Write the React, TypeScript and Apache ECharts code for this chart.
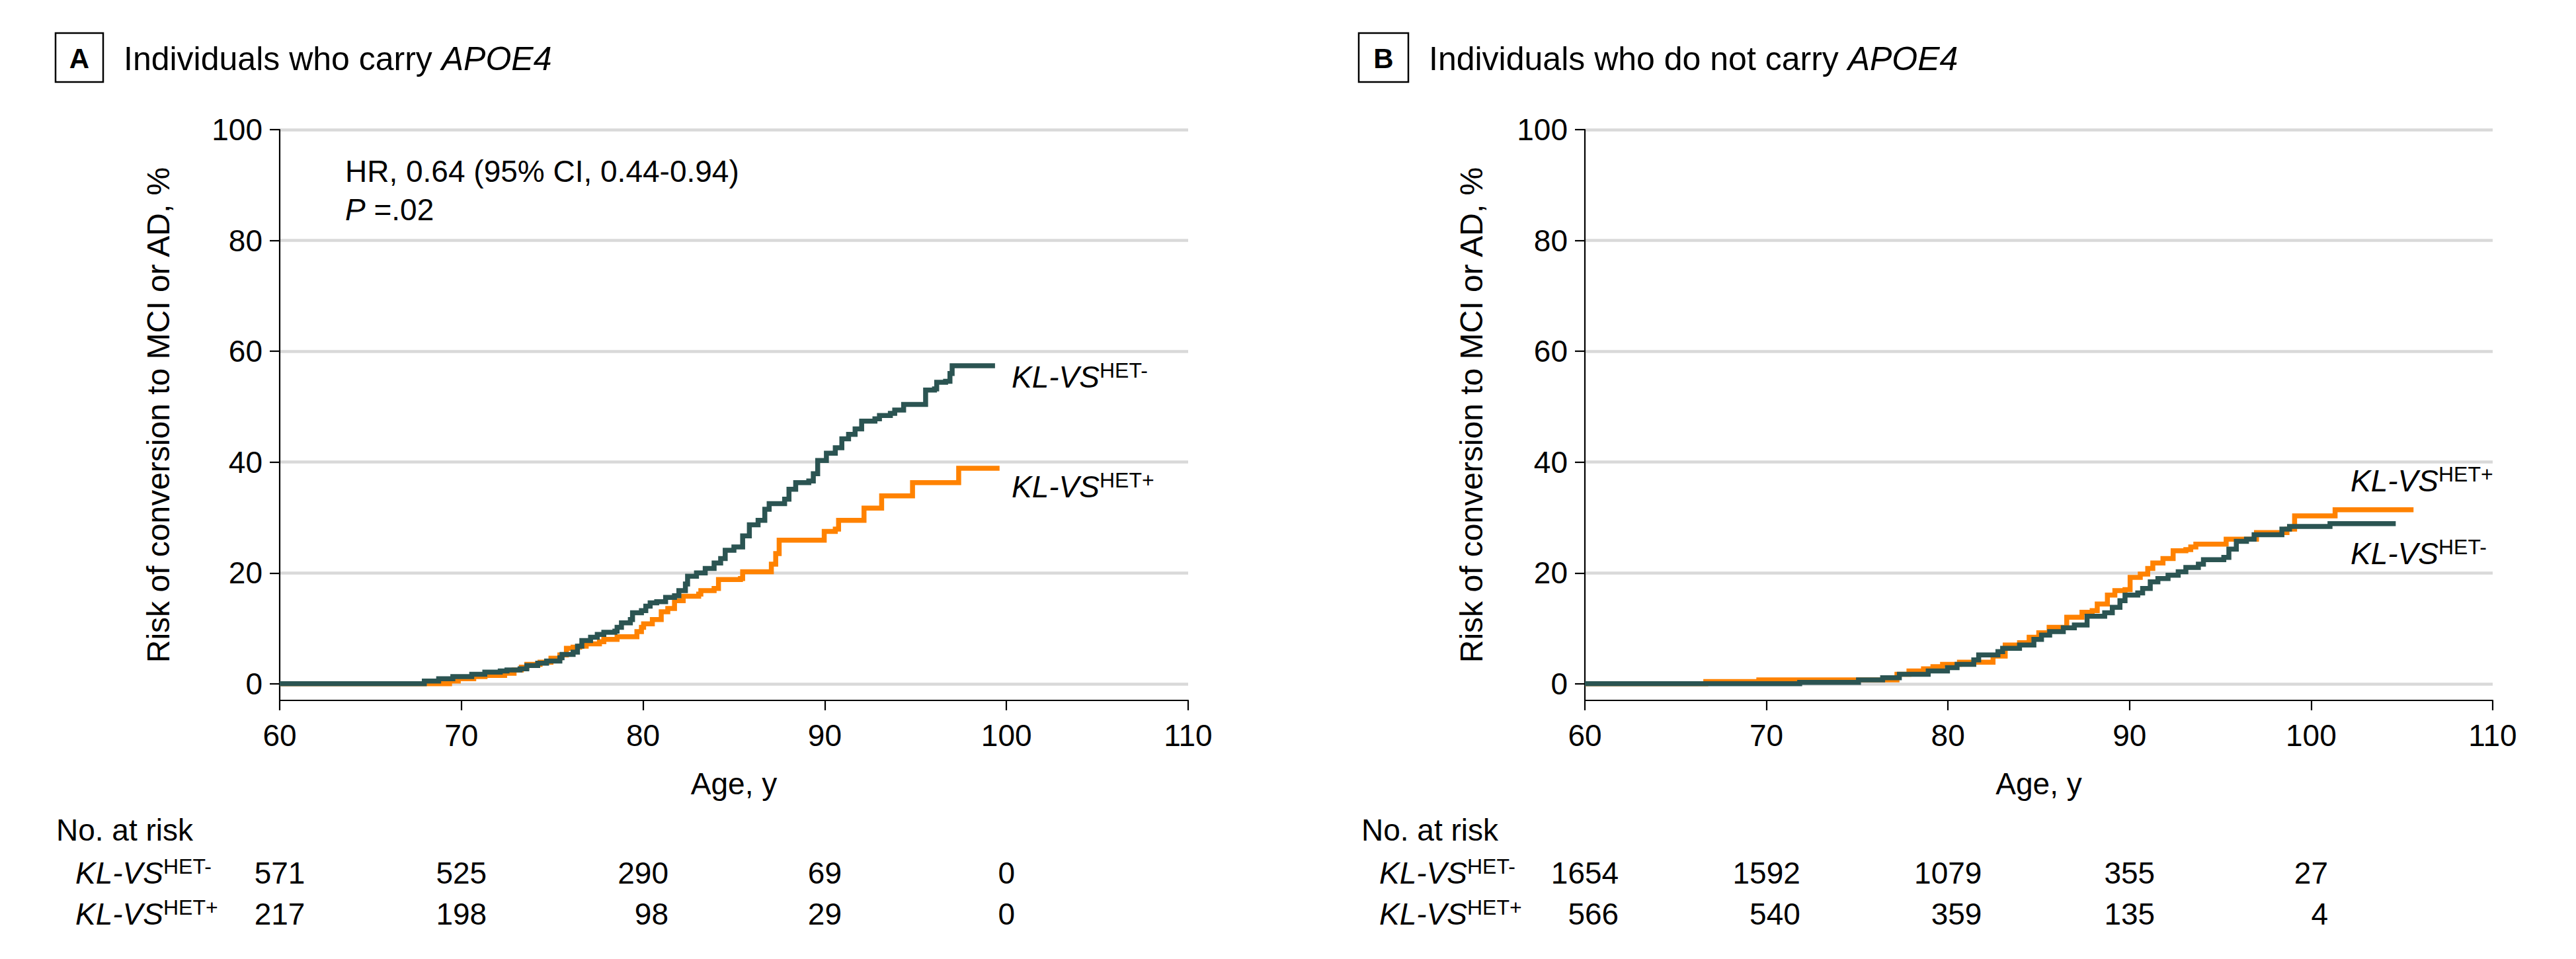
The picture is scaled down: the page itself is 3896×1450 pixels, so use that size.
import React, { useEffect, useRef } from 'react';
import * as echarts from 'echarts';

// ---------- data ----------
const xTicks = [60, 70, 80, 90, 100, 110];
const yTicks = [0, 20, 40, 60, 80, 100];

// Panel A: individuals who carry APOE4  [age, cumulative risk %]
const carrierHetNeg: [number, number][] = [
  [60, 0], [67.96, 0.5], [68.75, 0.9], [69.53, 1.3], [70.57, 1.7], [71.29, 2.1], [72.14, 2.3], [72.51, 2.5],
  [73.23, 2.7], [73.6, 3.3], [74.2, 3.7], [74.69, 4.1], [75.42, 4.7], [75.54, 5.3], [76.15, 5.7], [76.39, 6.8],
  [76.63, 7.8], [77.11, 8.4], [77.48, 8.9], [77.84, 9.3], [78.45, 9.5], [78.57, 10.2], [78.81, 11.0], [79.3, 11.6],
  [79.42, 12.8], [79.91, 13.2], [80.15, 14.0], [80.39, 14.6], [80.75, 14.8], [81.24, 15.6], [81.73, 15.9],
  [81.97, 16.8], [82.33, 18.0], [82.45, 19.4], [82.94, 20.0], [83.42, 20.8], [83.91, 21.8], [84.27, 22.6],
  [84.52, 24.1], [85.0, 24.7], [85.48, 26.7], [85.85, 28.7], [86.33, 29.5], [86.7, 31.5], [86.94, 32.5],
  [87.79, 33.3], [88.03, 35.1], [88.4, 36.3], [89.12, 36.6], [89.37, 37.9], [89.61, 40.3], [90.09, 41.6],
  [90.58, 42.6], [90.94, 44.2], [91.31, 45.0], [91.67, 46.0], [92.03, 47.4], [92.76, 47.8], [93.01, 48.4],
  [93.61, 48.8], [93.85, 49.4], [94.34, 50.4], [95.55, 53.0], [96.04, 53.2], [96.16, 54.4], [96.65, 54.6],
  [96.89, 56.0], [97.01, 57.4], [99.37, 57.4],
];
const carrierHetPos: [number, number][] = [
  [60, 0], [69.35, 0.5], [69.83, 0.9], [70.68, 1.3], [71.3, 1.5], [72.38, 1.9], [72.9, 2.5], [73.3, 3.0],
  [73.6, 3.5], [74.33, 3.9], [74.93, 4.6], [75.42, 5.2], [75.78, 6.4], [76.15, 6.6], [76.51, 6.8], [76.87, 7.2],
  [77.6, 7.6], [77.84, 8.0], [78.57, 8.5], [79.66, 9.4], [79.91, 10.2], [80.03, 10.8], [80.51, 11.6],
  [81.0, 13.0], [81.36, 13.6], [81.73, 15.0], [82.21, 15.8], [83.06, 16.2], [83.18, 16.8], [83.91, 17.2],
  [84.15, 18.8], [85.36, 19.0], [85.48, 20.2], [87.06, 21.6], [87.3, 23.5], [87.49, 25.9], [89.97, 27.5],
  [90.58, 27.9], [90.76, 29.5], [92.16, 31.7], [93.13, 33.9], [94.83, 36.3], [97.37, 38.9], [99.62, 38.9],
];

// Panel B: individuals who do not carry APOE4
const nonCarrierHetNeg: [number, number][] = [
  [60, 0], [71.83, 0.25], [75.07, 0.7], [76.4, 1.1], [77.32, 1.7], [78.91, 2.3], [79.97, 2.9], [80.5, 3.5],
  [81.42, 4.3], [81.69, 5.2], [82.75, 5.8], [83.01, 6.4], [83.94, 7.0], [84.73, 8.0], [85.15, 8.8], [85.6, 9.4],
  [86.35, 10.1], [86.96, 10.6], [87.66, 12.2], [88.63, 12.8], [89.05, 13.8], [89.47, 15.0], [89.75, 16.0],
  [90.45, 16.4], [90.72, 17.2], [91.14, 18.4], [91.56, 19.0], [92.12, 19.6], [92.68, 20.2], [93.1, 21.0],
  [93.79, 21.6], [94.07, 22.4], [95.19, 22.8], [95.47, 24.3], [95.88, 25.7], [96.44, 26.1], [96.86, 26.9],
  [98.39, 27.9], [98.81, 28.4], [101.04, 28.9], [104.66, 28.9],
];
const nonCarrierHetPos: [number, number][] = [
  [60, 0], [66.66, 0.4], [69.58, 0.7], [77.19, 1.7], [77.85, 2.3], [78.65, 2.7], [79.17, 3.1], [79.7, 3.5],
  [80.63, 3.9], [82.48, 5.0], [83.15, 7.0], [83.94, 7.4], [84.47, 8.4], [85.0, 9.2], [85.57, 10.2],
  [86.54, 12.0], [87.38, 12.9], [87.94, 13.2], [88.22, 14.4], [88.78, 16.0], [89.19, 16.8], [89.75, 17.0],
  [90.03, 19.2], [90.59, 19.8], [91.0, 20.8], [91.28, 21.8], [91.84, 22.6], [92.4, 24.0], [93.1, 24.2],
  [93.37, 24.7], [93.65, 25.2], [95.32, 26.1], [96.99, 27.3], [98.67, 27.9], [99.09, 30.3], [101.32, 31.4],
  [105.64, 31.4],
];

// Number at risk
const riskAges = [60, 70, 80, 90, 100];
const riskCarrierNeg = ['571', '525', '290', '69', '0'];
const riskCarrierPos = ['217', '198', '98', '29', '0'];
const riskNonCarrierNeg = ['1654', '1592', '1079', '355', '27'];
const riskNonCarrierPos = ['566', '540', '359', '135', '4'];

// ---------- styles ----------
const FONT = "'Liberation Sans', Arial, Helvetica, sans-serif";
const TEAL = '#2b5452';
const ORANGE = '#ff8200';
const GRID_COLOR = '#d9d9d9';
const FS = 46;

const axisLineStyle = { color: '#000', width: 2.2 };

function xAxisFor(gridIndex: number) {
  return {
    gridIndex,
    type: 'value',
    min: xTicks[0],
    max: xTicks[xTicks.length - 1],
    interval: 10,
    position: 'bottom',
    axisLine: { show: true, onZero: false, lineStyle: axisLineStyle },
    axisTick: { show: true, inside: false, length: 15, lineStyle: axisLineStyle },
    axisLabel: { color: '#000', fontSize: FS, fontFamily: FONT, margin: 30 },
    splitLine: { show: false },
    name: 'Age, y',
    nameLocation: 'middle',
    nameGap: 103,
    nameTextStyle: { color: '#000', fontSize: FS, fontFamily: FONT },
  };
}

function yAxisFor(gridIndex: number, nameGap: number) {
  return {
    gridIndex,
    type: 'value',
    min: -3,
    max: 100,
    axisLine: { show: true, onZero: false, lineStyle: axisLineStyle },
    axisTick: { show: true, inside: false, length: 15, customValues: yTicks, lineStyle: axisLineStyle },
    axisLabel: { customValues: yTicks, color: '#000', fontSize: FS, fontFamily: FONT, margin: 26 },
    splitLine: { show: true, lineStyle: { color: GRID_COLOR, width: 4.5 } },
    name: 'Risk of conversion to MCI or AD, %',
    nameLocation: 'middle',
    nameGap,
    nameTextStyle: { color: '#000', fontSize: 48, fontFamily: FONT },
  };
}

const digitW = 25.6;
const riskRich: Record<string, any> = {};
for (let n = 1; n <= 4; n++) {
  riskRich['d' + n] = {
    width: n * digitW,
    align: 'right',
    fontSize: FS,
    fontFamily: FONT,
    color: '#000',
    lineHeight: 62,
  };
}

function riskAxisFor(gridIndex: number, rows: string[][]) {
  return {
    gridIndex,
    type: 'value',
    min: 60,
    max: 110,
    interval: 10,
    position: 'bottom',
    axisLine: { show: false },
    axisTick: { show: false },
    splitLine: { show: false },
    axisLabel: {
      margin: 230,
      formatter: (v: number) => {
        const idx = riskAges.indexOf(Math.round(v));
        if (idx < 0) return '';
        const w = Math.max(...rows.map((r) => r[idx].length));
        return rows.map((r) => `{d${w}|${r[idx]}}`).join('\n');
      },
      rich: riskRich,
    },
  };
}

function kmSeries(data: [number, number][], axisIndex: number, color: string, z: number) {
  return {
    type: 'line',
    xAxisIndex: axisIndex,
    yAxisIndex: axisIndex,
    data,
    step: 'end',
    symbol: 'none',
    showSymbol: false,
    silent: true,
    z,
    lineStyle: { color, width: 7.5, cap: 'butt', join: 'miter' },
  };
}

function plainText(x: number, y: number, text: string, fontSize = FS, extra: any = {}) {
  return {
    type: 'text',
    x,
    y,
    silent: true,
    style: {
      text,
      fill: '#000',
      fontSize,
      fontFamily: FONT,
      align: 'left',
      verticalAlign: 'middle',
      textAlign: 'left',
      textVerticalAlign: 'middle',
      ...extra,
    },
  };
}

const supRich = {
  m: { fontStyle: 'italic', fontSize: FS, fontFamily: FONT, color: '#000', lineHeight: 52, verticalAlign: 'middle' },
  s: { fontSize: 32, fontFamily: FONT, color: '#000', verticalAlign: 'top' },
};

function klvs(x: number, y: number, sup: string) {
  return plainText(x, y, `{m|KL-VS}{s|${sup}}`, FS, { rich: supRich });
}

function titleBox(x: number, w: number, letter: string, textX: number, text: string) {
  return [
    {
      type: 'rect',
      silent: true,
      shape: { x, y: 50, width: w, height: 74 },
      style: { fill: 'none', stroke: '#000', lineWidth: 2.5 },
    },
    {
      type: 'text',
      x: x + w / 2,
      y: 88,
      silent: true,
      style: {
        text: letter,
        fill: '#000',
        fontSize: 42,
        fontWeight: 'bold',
        fontFamily: FONT,
        align: 'center',
        verticalAlign: 'middle',
        textAlign: 'center',
        textVerticalAlign: 'middle',
      },
    },
    plainText(textX, 89, `{n|${text}}{i|APOE4}`, 50, {
      rich: {
        n: { fontSize: 50, fontFamily: FONT, color: '#000' },
        i: { fontSize: 50, fontFamily: FONT, color: '#000', fontStyle: 'italic' },
      },
    }),
  ];
}

function buildOption() {
  return {
    animation: false,
    backgroundColor: '#fff',
    textStyle: { fontFamily: FONT },
    grid: [
      { left: 423, top: 196, width: 1374, height: 863, containLabel: false, outerBoundsMode: 'none' },
      { left: 2397, top: 196, width: 1373, height: 863, containLabel: false, outerBoundsMode: 'none' },
    ],
    xAxis: [
      xAxisFor(0),
      xAxisFor(1),
      riskAxisFor(0, [riskCarrierNeg, riskCarrierPos]),
      riskAxisFor(1, [riskNonCarrierNeg, riskNonCarrierPos]),
    ],
    yAxis: [yAxisFor(0, 160), yAxisFor(1, 148)],
    series: [
      kmSeries(carrierHetPos, 0, ORANGE, 2),
      kmSeries(carrierHetNeg, 0, TEAL, 3),
      kmSeries(nonCarrierHetPos, 1, ORANGE, 2),
      kmSeries(nonCarrierHetNeg, 1, TEAL, 3),
    ],
    graphic: {
      elements: [
        ...titleBox(84, 72, 'A', 187, 'Individuals who carry '),
        ...titleBox(2055, 75, 'B', 2161, 'Individuals who do not carry '),
        plainText(522, 259, 'HR, 0.64 (95% CI, 0.44-0.94)'),
        plainText(522, 317, '{i|P}{n| =.02}', FS, {
          rich: {
            i: { fontStyle: 'italic', fontSize: FS, fontFamily: FONT, color: '#000' },
            n: { fontSize: FS, fontFamily: FONT, color: '#000' },
          },
        }),
        klvs(1530, 570, 'HET-'),
        klvs(1530, 736, 'HET+'),
        klvs(3555, 727, 'HET+'),
        klvs(3555, 837, 'HET-'),
        plainText(85, 1255, 'No. at risk'),
        klvs(114, 1320, 'HET-'),
        klvs(114, 1382, 'HET+'),
        plainText(2059, 1255, 'No. at risk'),
        klvs(2086, 1320, 'HET-'),
        klvs(2086, 1382, 'HET+'),
      ],
    },
  };
}

export default function App() {
  const ref = useRef<HTMLDivElement>(null);
  useEffect(() => {
    document.body.style.margin = '0';
    if (!ref.current) return;
    const chart = echarts.init(ref.current, undefined, { renderer: 'svg' });
    chart.setOption(buildOption() as any);
    return () => {
      chart.dispose();
    };
  }, []);
  return <div ref={ref} style={{ width: 3896, height: 1450, background: '#fff' }} />;
}
